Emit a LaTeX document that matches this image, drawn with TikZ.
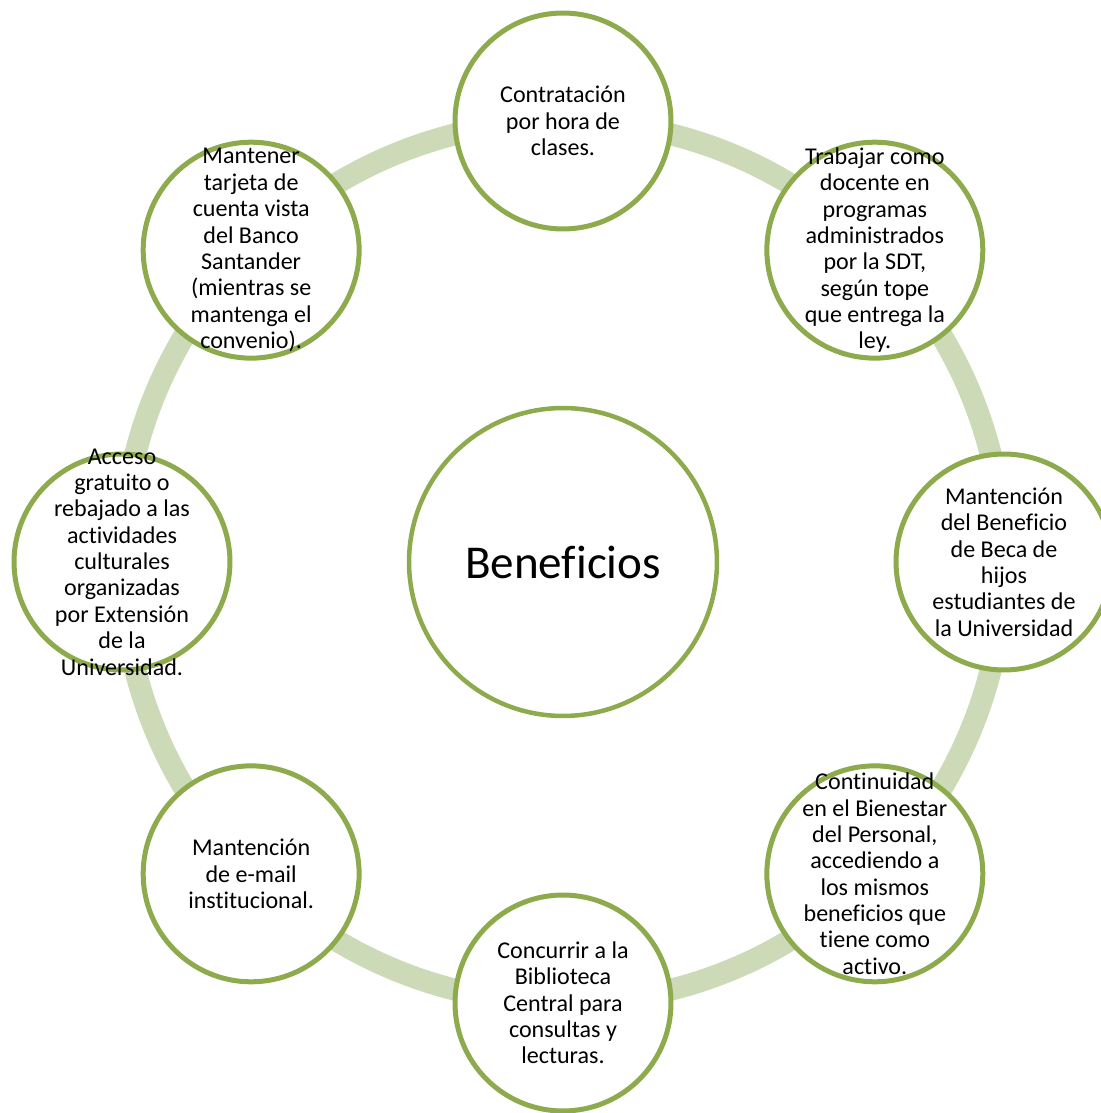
\documentclass[tikz,border=0pt]{standalone}
\usepackage{fontspec}
\setmainfont{Carlito}[Ligatures=NoCommon]
\usepackage{tikz}
\definecolor{ringgreen}{RGB}{205,218,183}
\definecolor{rimgreen}{RGB}{141,170,76}

\begin{document}
\begin{tikzpicture}[x=0.02cm, y=0.02cm,
  ring/.style = {draw=ringgreen, line width=0.44cm},
  benefit/.style = {shape=circle, draw=rimgreen, fill=white,
    line width=0.1cm, minimum size=4.32cm, inner sep=0pt},
  btext/.style = {align=center, font=\fontsize{13.7}{15}\selectfont},
  every label/.style = {btext}]
  \useasboundingbox (-563,-551) rectangle (538,562);
  \node (hub) at (0,0) {};
  \draw[ring] (hub.center) circle (441);
  \node[shape=circle, draw=rimgreen, fill=white, line width=0.09cm,
    minimum size=6.16cm, font=\fontsize{26.8}{30}\selectfont] (main) at (0,0) {Beneficios};
  \node[benefit, label=center:{Contratación\\por hora de\\clases.}] (hora) at (90:441) {};
  \node[benefit, label=center:{Trabajar como\\docente en\\programas\\administrados\\por la SDT,\\según tope\\que entrega la\\ley.}] (sdt) at (45:441) {};
  \node[benefit, label=center:{Mantención\\del Beneficio\\de Beca de\\hijos\\estudiantes de\\la Universidad}] (beca) at (0:441) {};
  \node[benefit, label=center:{Continuidad\\en el Bienestar\\del Personal,\\accediendo a\\los mismos\\beneficios que\\tiene como\\activo.}] (bienestar) at (-45:441) {};
  \node[benefit, label=center:{Concurrir a la\\Biblioteca\\Central para\\consultas y\\lecturas.}] (biblioteca) at (-90:441) {};
  \node[benefit, label=center:{Mantención\\de e-mail\\institucional.}] (email) at (-135:441) {};
  \node[benefit, label=center:{Acceso\\gratuito o\\rebajado a las\\actividades\\culturales\\organizadas\\por Extensión\\de la\\Universidad.}] (cultura) at (180:441) {};
  \node[benefit, label=center:{Mantener\\tarjeta de\\cuenta vista\\del Banco\\Santander\\(mientras se\\mantenga el\\convenio).}] (tarjeta) at (135:441) {};
\end{tikzpicture}
\end{document}
